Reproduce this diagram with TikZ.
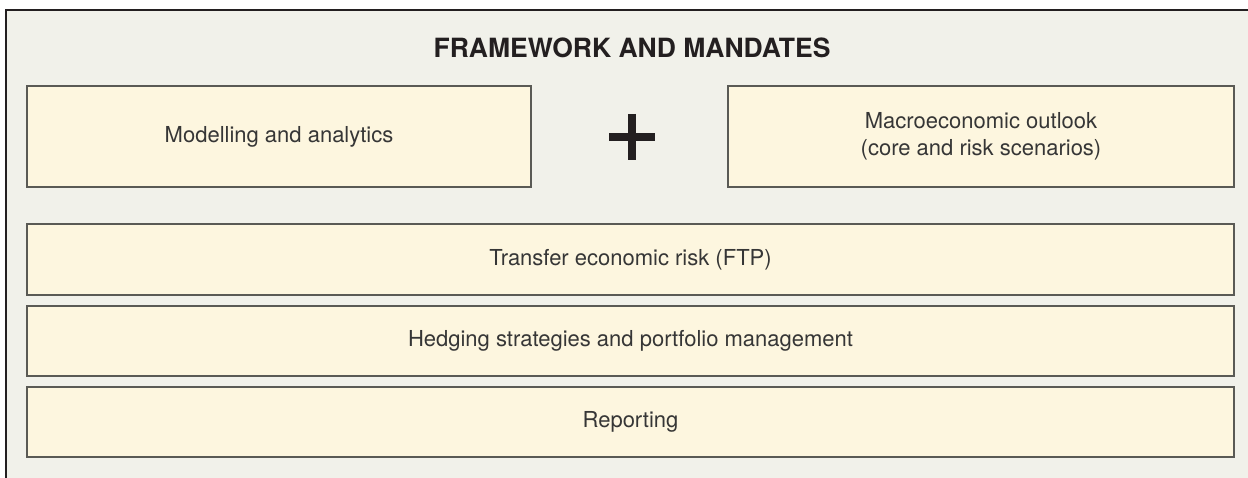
\documentclass[tikz,border=0pt]{standalone}
\usepackage{fontspec}
\setmainfont{TeX Gyre Heros}
\usepackage{tikz}
\usetikzlibrary{positioning,calc}
\definecolor{panelbg}{HTML}{F1F1EA}
\definecolor{boxfill}{HTML}{FDF6DF}
\definecolor{boxline}{HTML}{5A5A55}
\definecolor{bodytext}{HTML}{363636}
\definecolor{titletext}{HTML}{231F20}
\tikzset{
    layer/.style={draw=boxline,fill=boxfill,line width=1.5pt,align=center,inner sep=0pt,
        text=bodytext,font=\fontsize{22}{27}\selectfont},
    halfbox/.style={layer,minimum width=504pt,minimum height=101pt},
    fullbox/.style={layer,minimum width=1207pt,minimum height=70pt}
}

\begin{document}
\begin{tikzpicture}[x=1pt,y=-1pt]
    \useasboundingbox (0,0) rectangle (1248,478);
    % panel, open on the right and at the bottom
    \fill[panelbg] (6,10) rectangle (1248,478);
    \draw[titletext,line width=1.2pt] (6,478) -- (6,10) -- (1248,10);

    \node[text=titletext,font=\fontsize{26.5}{30}\selectfont\bfseries] (title) at (632,48) {FRAMEWORK AND MANDATES};

    \node[halfbox] (model) at (279,136.5) {Modelling and analytics};
    \node[halfbox,minimum width=506pt] (outlook) at (981,136.5) {Macroeconomic outlook\\(core and risk scenarios)};
    \coordinate (plus) at (632,137);
    \draw[titletext,line width=8pt] ($(plus)+(-23,0)$) -- ($(plus)+(23,0)$);
    \draw[titletext,line width=8pt] ($(plus)+(0,-23)$) -- ($(plus)+(0,23)$);

    \node[fullbox,minimum height=71pt] (ftp) at (630.5,259.5) {Transfer economic risk (FTP)};
    \node[fullbox] (hedge) at (630.5,341) {Hedging strategies and portfolio management};
    \node[fullbox] (report) at (630.5,422) {Reporting};
\end{tikzpicture}
\end{document}
